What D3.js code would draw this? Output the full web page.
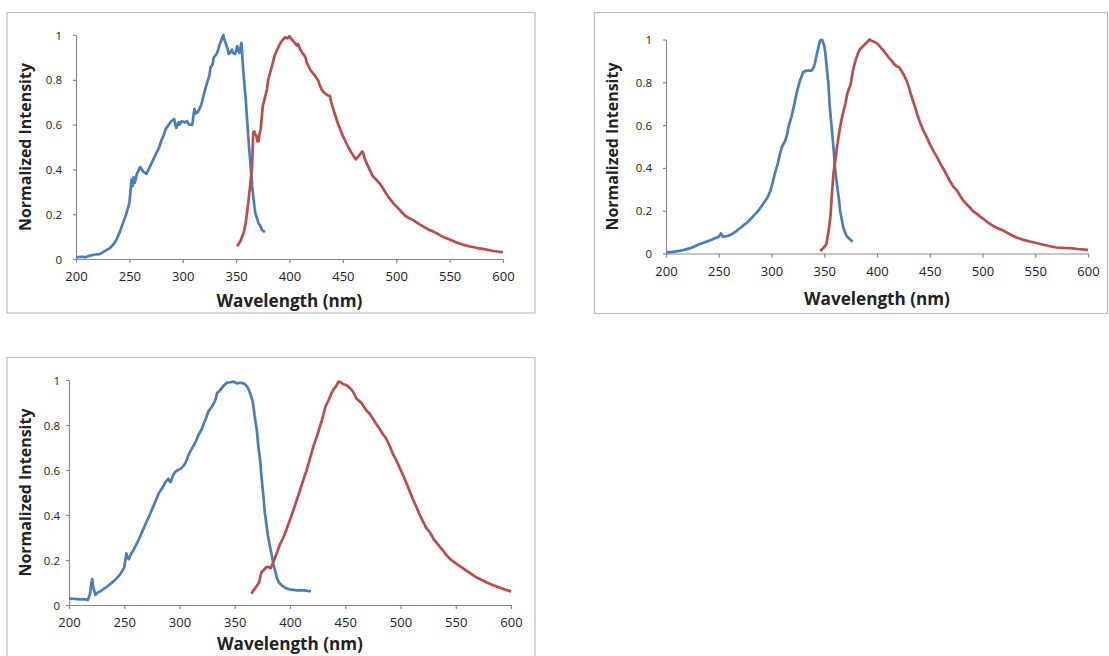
<!DOCTYPE html>
<html><head><meta charset="utf-8">
<script src="https://cdn.jsdelivr.net/npm/d3@7"></script>
<style>
html,body{margin:0;padding:0;background:#fff;}
svg{display:block;}
text{font-family:Lato,"Open Sans",sans-serif;fill:#222;}
</style></head>
<body>
<svg id="chart" width="1109" height="656"></svg>
<script>
// ---- shared axis definitions ----
const xTicks = [200, 250, 300, 350, 400, 450, 500, 550, 600];
const yTicks = [0, 0.2, 0.4, 0.6, 0.8, 1];
const xTitle = "Wavelength (nm)";
const yTitle = "Normalized Intensity";

// ---- panel 1 (top-left) ----
const p1Excitation = [[200,0.007],[205,0.01],[209,0.008],[213,0.015],[218,0.02],[222,0.022],[227,0.035],[232,0.05],[235,0.065],[238,0.087],[241,0.12],[244,0.16],[247,0.2],[250,0.25],[251,0.3],[252,0.355],[253,0.325],[254,0.365],[255,0.34],[257,0.38],[260,0.41],[263,0.39],[266,0.38],[268,0.40],[270,0.42],[273,0.45],[275,0.47],[278,0.5],[280,0.53],[282,0.55],[284,0.58],[287,0.6],[289,0.615],[292,0.625],[293,0.6],[294,0.585],[296,0.61],[297,0.6],[299,0.615],[302,0.61],[304,0.615],[306,0.60],[309,0.60],[310,0.64],[311,0.67],[312,0.65],[314,0.655],[317,0.685],[318,0.7],[320,0.74],[323,0.79],[325,0.82],[326,0.855],[328,0.87],[329,0.90],[331,0.91],[333,0.93],[334,0.95],[336,0.975],[338,1.0],[339,0.98],[340,0.965],[342,0.94],[343,0.915],[345,0.925],[346,0.935],[347,0.92],[349,0.915],[350,0.93],[351,0.95],[352,0.93],[353,0.92],[354,0.94],[355,0.965],[356,0.89],[357,0.82],[359,0.715],[360,0.64],[362,0.505],[364,0.39],[365,0.325],[367,0.24],[368,0.205],[370,0.175],[371,0.16],[373,0.145],[374,0.13],[377,0.12]];
const p1Emission = [[351,0.057],[354,0.08],[357,0.116],[359,0.16],[361,0.236],[363,0.32],[365,0.415],[366,0.565],[367,0.57],[368,0.555],[369,0.55],[370,0.525],[371,0.527],[372,0.56],[373,0.58],[374,0.63],[375,0.685],[377,0.72],[379,0.76],[380,0.8],[382,0.833],[384,0.87],[386,0.907],[388,0.93],[391,0.96],[393,0.975],[396,0.99],[398,0.985],[400,0.995],[402,0.98],[403,0.975],[405,0.965],[407,0.952],[408,0.96],[410,0.937],[412,0.92],[413,0.915],[415,0.9],[416,0.878],[418,0.86],[419,0.848],[421,0.835],[424,0.818],[425,0.81],[427,0.796],[428,0.78],[430,0.758],[432,0.745],[434,0.736],[436,0.73],[438,0.728],[439,0.7],[441,0.669],[443,0.64],[445,0.609],[447,0.585],[450,0.549],[452,0.53],[453,0.519],[455,0.5],[458,0.475],[460,0.46],[462,0.445],[464,0.455],[466,0.467],[468,0.48],[469,0.475],[470,0.455],[472,0.43],[475,0.4],[478,0.37],[481,0.355],[484,0.34],[487,0.32],[490,0.296],[493,0.275],[497,0.25],[500,0.235],[503,0.221],[506,0.205],[509,0.191],[512,0.182],[515,0.176],[520,0.16],[525,0.146],[530,0.132],[534,0.124],[539,0.112],[543,0.10],[550,0.087],[556,0.075],[562,0.065],[568,0.057],[575,0.05],[581,0.045],[590,0.037],[600,0.03]];

// ---- panel 2 (top-right) ----
const p2Excitation = [[200,0.005],[206,0.008],[213,0.012],[218,0.018],[223,0.025],[228,0.035],[232,0.044],[237,0.053],[242,0.062],[246,0.07],[250,0.078],[252,0.094],[254,0.078],[258,0.082],[261,0.087],[264,0.095],[267,0.106],[270,0.118],[273,0.13],[277,0.145],[280,0.16],[283,0.176],[286,0.192],[289,0.21],[292,0.231],[296,0.26],[299,0.293],[301,0.33],[303,0.371],[306,0.42],[308,0.465],[310,0.5],[313,0.527],[315,0.56],[316,0.59],[319,0.64],[321,0.683],[324,0.754],[327,0.808],[330,0.847],[333,0.855],[335,0.855],[338,0.855],[340,0.87],[341,0.886],[343,0.933],[345,0.975],[346,0.995],[348,0.998],[350,0.972],[351,0.94],[352,0.886],[354,0.79],[355,0.70],[357,0.59],[359,0.48],[360,0.41],[362,0.324],[364,0.25],[365,0.20],[367,0.15],[368,0.122],[370,0.095],[371,0.083],[374,0.068],[377,0.055]];
const p2Emission = [[346,0.012],[349,0.025],[352,0.044],[354,0.1],[356,0.18],[357,0.26],[359,0.387],[360,0.418],[362,0.496],[365,0.59],[367,0.64],[370,0.70],[372,0.75],[375,0.79],[377,0.85],[379.5,0.9],[382,0.935],[384,0.956],[387,0.97],[389,0.98],[391,0.99],[393,1.0],[395,0.993],[397,0.99],[400,0.982],[402,0.972],[404,0.96],[406,0.949],[409,0.93],[411,0.917],[414,0.9],[416,0.886],[419,0.874],[421,0.87],[422,0.863],[425,0.839],[428,0.808],[430,0.78],[433,0.73],[436,0.685],[438,0.652],[441,0.61],[444,0.574],[447,0.545],[450,0.512],[454,0.475],[457,0.449],[460,0.42],[463,0.395],[466,0.367],[469,0.34],[472,0.315],[476,0.293],[479,0.268],[482,0.246],[485,0.23],[488,0.215],[491,0.198],[495,0.184],[498,0.172],[501,0.161],[505,0.145],[510,0.129],[515,0.117],[520,0.106],[526,0.09],[532,0.075],[538,0.065],[545,0.056],[552,0.048],[558,0.041],[564,0.034],[570,0.028],[577,0.026],[583,0.025],[590,0.021],[600,0.017]];

// ---- panel 3 (bottom-left) ----
const p3Excitation = [[200,0.028],[205,0.027],[210,0.025],[214,0.026],[217,0.022],[219,0.048],[220,0.09],[221,0.115],[222,0.077],[224,0.045],[226,0.055],[228,0.06],[231,0.07],[234,0.08],[237,0.092],[240,0.104],[243,0.118],[246,0.134],[248,0.15],[250,0.167],[251,0.2],[252,0.229],[253,0.21],[254,0.204],[256,0.225],[258,0.241],[261,0.27],[264,0.30],[267,0.335],[270,0.368],[273,0.4],[276,0.435],[279,0.47],[281,0.494],[283,0.51],[285,0.524],[287,0.545],[290,0.561],[291,0.55],[292,0.546],[294,0.575],[296,0.591],[298,0.598],[301,0.606],[303,0.615],[305,0.628],[307,0.65],[308,0.665],[310,0.685],[313,0.71],[315,0.73],[317,0.754],[320,0.78],[322,0.807],[324,0.83],[326,0.859],[329,0.88],[331,0.896],[333,0.92],[334,0.943],[336,0.95],[338,0.963],[340,0.975],[343,0.988],[346,0.99],[349,0.993],[352,0.985],[355,0.988],[358,0.985],[360,0.978],[362,0.965],[364,0.94],[366,0.91],[367,0.88],[368,0.84],[370,0.777],[371,0.72],[373,0.643],[374,0.58],[376,0.479],[377,0.42],[379,0.345],[380,0.31],[382,0.256],[384,0.21],[385,0.182],[387,0.145],[388,0.122],[390,0.1],[393,0.085],[396,0.076],[399,0.07],[403,0.067],[407,0.065],[410,0.066],[413,0.065],[416,0.063],[419,0.062]];
const p3Emission = [[365,0.05],[367,0.065],[370,0.085],[372,0.1],[374,0.144],[377,0.16],[379,0.17],[381,0.168],[382.5,0.164],[384,0.18],[386,0.204],[388,0.23],[391,0.271],[394,0.3],[397,0.338],[400,0.38],[403,0.42],[406,0.465],[409,0.509],[412,0.555],[415,0.598],[418,0.65],[421,0.702],[424,0.745],[427,0.792],[430,0.84],[432,0.881],[435,0.911],[437,0.935],[439,0.955],[442,0.975],[444,0.993],[446,0.99],[447,0.985],[449,0.98],[451,0.978],[454,0.965],[456,0.955],[458,0.94],[460,0.918],[463,0.905],[465,0.896],[467,0.88],[469,0.866],[472,0.85],[475,0.829],[478,0.805],[481,0.784],[484,0.76],[487,0.74],[490,0.71],[493,0.673],[496,0.645],[499,0.613],[502,0.58],[505,0.546],[508,0.51],[511,0.472],[514,0.44],[517,0.405],[520,0.375],[523,0.345],[527,0.32],[530,0.293],[533,0.275],[536,0.256],[539,0.238],[542,0.219],[546,0.2],[551,0.182],[556,0.165],[560,0.152],[565,0.135],[569,0.122],[574,0.11],[578,0.10],[584,0.088],[590,0.077],[595,0.068],[600,0.06]];

// ---- layout (positions only) ----
const panels = [
  {box:[7,12.5,528,300.5], x0:76, x1:503, yTop:35, yBot:259, yTitleX:25, yLabGap:14, xTitleDy:48, excitation:p1Excitation, emission:p1Emission},
  {box:[594.5,12.5,513,301], x0:666, x1:1088, yTop:39.5, yBot:253.5, yTitleX:612, yLabGap:14, xTitleDy:51, excitation:p2Excitation, emission:p2Emission},
  {box:[7,357.5,528,310], x0:69, x1:511, yTop:380, yBot:605, yTitleX:25, yLabGap:9, xTitleDy:45, excitation:p3Excitation, emission:p3Emission}
];

const svg = d3.select("#chart");
const blue = "#4a7ebb", red = "#be4b48", axisCol = "#8a8a8a";
const titleFont = "'Open Sans', Lato, sans-serif";

function fitWidth(sel, target) {
  const w = sel.node().getComputedTextLength();
  const fs = parseFloat(sel.style("font-size"));
  sel.style("font-size", (fs * target / w).toFixed(2) + "px");
}

panels.forEach(p => {
  const g = svg.append("g");
  g.append("rect").attr("x", p.box[0]).attr("y", p.box[1]).attr("width", p.box[2]).attr("height", p.box[3])
    .attr("fill", "#fff").attr("stroke", "#bcbcbc").attr("stroke-width", 1.2);

  const x = d3.scaleLinear().domain([200, 600]).range([p.x0, p.x1]);
  const y = d3.scaleLinear().domain([0, 1]).range([p.yBot, p.yTop]);

  const xAxis = g.append("g").attr("transform", `translate(0,${p.yBot})`)
    .call(d3.axisBottom(x).tickValues(xTicks).tickSize(4).tickSizeOuter(0).tickPadding(9).tickFormat(d3.format("d")));
  const yAxis = g.append("g").attr("transform", `translate(${p.x0},0)`)
    .call(d3.axisLeft(y).tickValues(yTicks).tickSize(3).tickSizeOuter(0).tickPadding(p.yLabGap - 3).tickFormat(d => d === 0 || d === 1 ? d3.format("d")(d) : d3.format(".1f")(d)));
  [xAxis, yAxis].forEach(a => {
    a.select(".domain").attr("stroke", axisCol).attr("stroke-width", 1.2);
    a.selectAll(".tick line").attr("stroke", axisCol).attr("stroke-width", 1.2);
    a.selectAll(".tick text").attr("fill", "#222").style("font-family", "'Open Sans', Lato, sans-serif");
  });
  xAxis.selectAll(".tick text").style("font-size", "13px");
  yAxis.selectAll(".tick text").style("font-size", "11.5px").attr("dy", "0.35em");

  const line = d3.line().x(d => x(d[0])).y(d => y(d[1]));
  g.append("path").datum(p.excitation).attr("d", line).attr("fill", "none")
    .attr("stroke", blue).attr("stroke-width", 2.7).attr("stroke-linejoin", "round");
  g.append("path").datum(p.emission).attr("d", line).attr("fill", "none")
    .attr("stroke", red).attr("stroke-width", 2.7).attr("stroke-linejoin", "round");

  const xt = g.append("text").attr("x", (p.x0 + p.x1) / 2).attr("y", p.yBot + p.xTitleDy)
    .attr("text-anchor", "middle").style("font-family", titleFont).style("font-weight", "bold").style("font-size", "16px").text(xTitle);
  fitWidth(xt, 146);
  const yt = g.append("text").attr("transform", `translate(${p.yTitleX},${(p.yTop + p.yBot) / 2}) rotate(-90)`)
    .attr("text-anchor", "middle").attr("dy", "0.35em").style("font-family", titleFont).style("font-weight", "bold").style("font-size", "16px").text(yTitle);
  fitWidth(yt, 168);
});
</script>
</body></html>
